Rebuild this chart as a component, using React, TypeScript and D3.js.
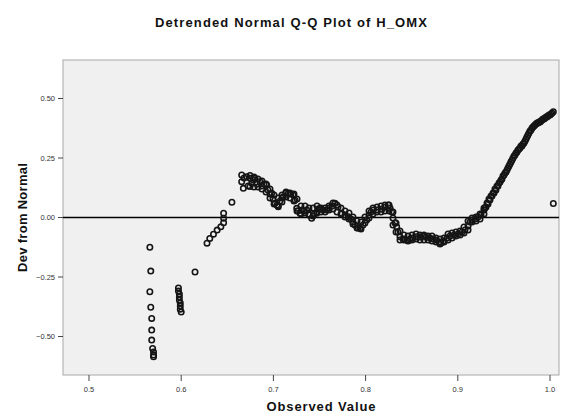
import React from "react";
import * as d3 from "d3";

const width = 563;
const height = 414;

const xTicks = [0.5, 0.6, 0.7, 0.8, 0.9, 1.0];
const yTicks = [0.5, 0.25, 0, -0.25, -0.5];

const obsValues = [
  // tied low values
  0.566, 0.567, 0.566, 0.567, 0.568, 0.568, 0.568, 0.569, 0.57, 0.57, 0.57,
  0.597, 0.597, 0.598, 0.598, 0.598, 0.599, 0.599, 0.599, 0.6,
  0.615,
  0.628, 0.631, 0.635, 0.639, 0.643, 0.646, 0.646, 0.646, 0.655,
  // main band
  0.6656, 0.6656, 0.6674, 0.6681, 0.671, 0.6725, 0.6746, 0.6765, 0.6779, 0.68,
  0.6822, 0.6855, 0.6876, 0.6898, 0.6927, 0.6941, 0.6963, 0.6982, 0.6996, 0.7017,
  0.7039, 0.7053, 0.7072, 0.7093, 0.7107, 0.7137, 0.7162, 0.7191, 0.7216, 0.7234,
  0.7253, 0.7267, 0.7289, 0.731, 0.7332, 0.7361, 0.7386, 0.7415, 0.744, 0.747,
  0.7484, 0.7505, 0.7538, 0.7578, 0.7603, 0.7636, 0.7668, 0.7701, 0.7741, 0.7777,
  0.7812, 0.7842, 0.7863, 0.7885, 0.7918, 0.7939, 0.7972, 0.8012, 0.8037, 0.8059,
  0.8084, 0.8124, 0.8175, 0.821, 0.8246, 0.8265, 0.8283, 0.8297, 0.8319, 0.8337,
  0.8351, 0.8373, 0.8406, 0.8446, 0.8482, 0.8514, 0.8554, 0.859, 0.8623, 0.8655,
  0.8698, 0.8731, 0.8764, 0.8796, 0.8818, 0.885, 0.8883, 0.8915, 0.8959, 0.9002,
  0.9046, 0.9078, 0.9111, 0.9132, 0.9154, 0.9187, 0.9219, 0.9252, 0.9284, 0.9306,
  0.9328, 0.9349, 0.9371, 0.9393, 0.9414, 0.9436, 0.9458, 0.9479, 0.9501, 0.9523,
  0.9544, 0.9566, 0.9588, 0.961, 0.9631, 0.9653, 0.9675, 0.9696, 0.9718, 0.974,
  0.9761, 0.9783, 0.9805, 0.9826, 0.9848, 0.987, 0.9892, 0.9913, 0.9935, 0.9957,
  0.9978, 1.0, 1.0022, 1.0036,
  // outlier
  1.0036,
];

const devValues = [
  -0.125, -0.225, -0.312, -0.377, -0.424, -0.473, -0.515, -0.55, -0.565, -0.578, -0.585,
  -0.296, -0.309, -0.321, -0.334, -0.347, -0.359, -0.372, -0.385, -0.397,
  -0.229,
  -0.108, -0.088, -0.07, -0.053, -0.039, -0.022, -0.003, 0.018, 0.064,
  0.1786, 0.1504, 0.1227, 0.166, 0.1714, 0.1324, 0.1647, 0.1437, 0.1576, 0.1647,
  0.1408, 0.1504, 0.1324, 0.1408, 0.1366, 0.1155, 0.0987, 0.1017, 0.0777, 0.0597,
  0.0525, 0.0454, 0.0693, 0.0819, 0.0874, 0.1029, 0.1017, 0.0987, 0.0945, 0.0735,
  0.0387, 0.0273, 0.0176, 0.0315, 0.0273, 0.0315, 0.0147, -0.0034, 0.0147, 0.0176,
  0.0357, 0.0387, 0.0315, 0.0315, 0.0399, 0.0483, 0.0597, 0.0441, 0.0176, 0.0105,
  0.0034, -0.0063, -0.0189, -0.0315, -0.0441, -0.0454, -0.0315, -0.0105, 0.0105, 0.0231,
  0.0315, 0.0315, 0.0345, 0.0441, 0.0525, 0.0399, 0.0244, -0.0021, -0.0231, -0.0387,
  -0.0609, -0.0807, -0.0903, -0.0945, -0.0903, -0.0861, -0.0807, -0.0819, -0.0777, -0.0819,
  -0.0861, -0.0903, -0.0945, -0.1029, -0.1071, -0.0987, -0.0861, -0.0777, -0.0735, -0.0693,
  -0.0609, -0.0525, -0.0357, -0.0189, -0.0105, -0.0063, 0.0021, 0.0105, 0.0315, 0.0441,
  0.0567, 0.0735, 0.0903, 0.1029, 0.1155, 0.1324, 0.1492, 0.1618, 0.1786, 0.1912,
  0.208, 0.2248, 0.2416, 0.2584, 0.271, 0.2836, 0.292, 0.3004, 0.313, 0.3298,
  0.3466, 0.3634, 0.3761, 0.3845, 0.3929, 0.3971, 0.4013, 0.4097, 0.4139, 0.4223,
  0.4265, 0.4307, 0.4391, 0.4445,
  0.0588,
];

// points along the upper and lower edge of the thick flat trail
const edgeObs = [
  0.6746, 0.679, 0.6833, 0.6876, 0.692, 0.6963, 0.7007, 0.705, 0.7093, 0.7137,
  0.718, 0.7223, 0.7256, 0.7299, 0.7343, 0.7386, 0.743, 0.7473, 0.7516, 0.756,
  0.7603, 0.7646, 0.769, 0.7733, 0.7777, 0.782, 0.7863, 0.7907, 0.795, 0.7993,
  0.8037, 0.808, 0.8124, 0.8167, 0.821, 0.8254, 0.8297, 0.833, 0.8373, 0.8416,
  0.846, 0.8503, 0.8547, 0.859, 0.8633, 0.8677, 0.872, 0.8764, 0.8807, 0.885,
  0.8894, 0.8937, 0.898, 0.9024, 0.9067, 0.9111, 0.9154, 0.9197, 0.9241, 0.9284,
];
const upperDev = [
  0.1765, 0.1702, 0.1618, 0.1534, 0.1408, 0.1197, 0.0945, 0.0819, 0.0945, 0.1071,
  0.1029, 0.0987, 0.0777, 0.0483, 0.0483, 0.0399, 0.0399, 0.0483, 0.0399, 0.0399,
  0.0483, 0.0609, 0.0525, 0.0399, 0.0273, 0.0189, 0.0021, -0.0147, -0.0189, 0.0021,
  0.0273, 0.0399, 0.0441, 0.0483, 0.0525, 0.0525, 0.0231, -0.0231, -0.0567, -0.0735,
  -0.0777, -0.0735, -0.0693, -0.0735, -0.0735, -0.0777, -0.0777, -0.0861, -0.0903, -0.0861,
  -0.0693, -0.0651, -0.0609, -0.0567, -0.0399, -0.0147, -0.0021, 0.0021, 0.0147, 0.0399,
];
const lowerDev = [
  0.1303, 0.1282, 0.1282, 0.1197, 0.1071, 0.0819, 0.0567, 0.0483, 0.0651, 0.0861,
  0.0819, 0.0693, 0.0273, 0.0147, 0.0189, 0.0105, 0.0063, 0.0231, 0.0231, 0.0231,
  0.0315, 0.0357, 0.0231, 0.0147, 0.0021, -0.0063, -0.0273, -0.0441, -0.0483, -0.0231,
  -0.0021, 0.0147, 0.0231, 0.0231, 0.0273, 0.0273, -0.0315, -0.0609, -0.0945, -0.0945,
  -0.0987, -0.0945, -0.0903, -0.0945, -0.0945, -0.0945, -0.0987, -0.1029, -0.1113, -0.1029,
  -0.0945, -0.0861, -0.0777, -0.0735, -0.0651, -0.0525, -0.0189, -0.0147, -0.0063, 0.0147,
];

// extra points in the steep rising part on the right
const steepObs = [
  0.9295, 0.9317, 0.9338, 0.936, 0.9382, 0.9403, 0.9425, 0.9447, 0.9469, 0.949,
  0.9512, 0.9534, 0.9555, 0.9577, 0.9599, 0.962, 0.9642, 0.9664, 0.9685, 0.9707,
  0.9729, 0.975, 0.9772, 0.9794, 0.9816, 0.9837, 0.9859, 0.9881, 0.9902, 0.9924,
  0.9946, 0.9967, 0.9989, 1.0011,
];
const steepDev = [
  0.0399, 0.0609, 0.0777, 0.0903, 0.1029, 0.1197, 0.1324, 0.145, 0.1576, 0.1744,
  0.187, 0.1996, 0.2164, 0.2332, 0.25, 0.2626, 0.2752, 0.2878, 0.3004, 0.3088,
  0.3214, 0.3382, 0.355, 0.3676, 0.3803, 0.3887, 0.3971, 0.4013, 0.4055, 0.4139,
  0.4181, 0.4223, 0.4307, 0.4349,
];

const plot = { left: 63, right: 559, top: 60, bottom: 375 };

const App = () => {
  const x = d3.scaleLinear().domain([0.5, 1.0]).range([89, 550]);
  const y = d3.scaleLinear().domain([0.5, -0.5]).range([98.5, 336.5]);
  const points = [
    ...obsValues.map((v, i) => [v, devValues[i]]),
    ...edgeObs.map((v, i) => [v, upperDev[i]]),
    ...edgeObs.map((v, i) => [v, lowerDev[i]]),
    ...steepObs.map((v, i) => [v, steepDev[i]]),
  ];
  const font = "'Liberation Sans', Arial, sans-serif";

  return (
    <svg
      width={width}
      height={height}
      style={{ position: "absolute", left: 0, top: 0, background: "#fff", fontFamily: font }}
    >
      <text
        x={291}
        y={27}
        textAnchor="middle"
        fontSize={13}
        fontWeight="bold"
        fill="#111"
        textLength={272}
        lengthAdjust="spacing"
      >
        Detrended Normal Q-Q Plot of H_OMX
      </text>

      <rect
        x={plot.left}
        y={plot.top}
        width={plot.right - plot.left}
        height={plot.bottom - plot.top}
        fill="#f0f0f0"
        stroke="#a8a8a8"
        strokeWidth={1}
      />

      {yTicks.map((t) => (
        <g key={"y" + t}>
          <line x1={58} x2={plot.left} y1={y(t)} y2={y(t)} stroke="#444" strokeWidth={1} />
          <text x={55} y={y(t) + 2.5} textAnchor="end" fontSize={7.5} fill="#333">
            {d3.format(".2f")(t)}
          </text>
        </g>
      ))}

      {xTicks.map((t) => (
        <g key={"x" + t}>
          <line x1={x(t)} x2={x(t)} y1={plot.bottom} y2={plot.bottom + 6} stroke="#444" strokeWidth={1} />
          <text x={x(t)} y={392} textAnchor="middle" fontSize={7.5} fill="#333">
            {d3.format(".1f")(t)}
          </text>
        </g>
      ))}

      <line x1={plot.left} x2={plot.right} y1={y(0)} y2={y(0)} stroke="#000" strokeWidth={1.6} />

      {points.map((d, i) => (
        <circle
          key={i}
          cx={x(d[0])}
          cy={y(d[1])}
          r={2.7}
          fill="none"
          stroke="#151515"
          strokeWidth={1.6}
        />
      ))}

      <text
        x={321}
        y={411}
        textAnchor="middle"
        fontSize={13}
        fontWeight="bold"
        fill="#111"
        textLength={109}
        lengthAdjust="spacing"
      >
        Observed Value
      </text>
      <text
        transform="translate(27,217.5) rotate(-90)"
        textAnchor="middle"
        fontSize={13}
        fontWeight="bold"
        fill="#111"
        textLength={109}
        lengthAdjust="spacing"
      >
        Dev from Normal
      </text>
    </svg>
  );
};

export default App;
